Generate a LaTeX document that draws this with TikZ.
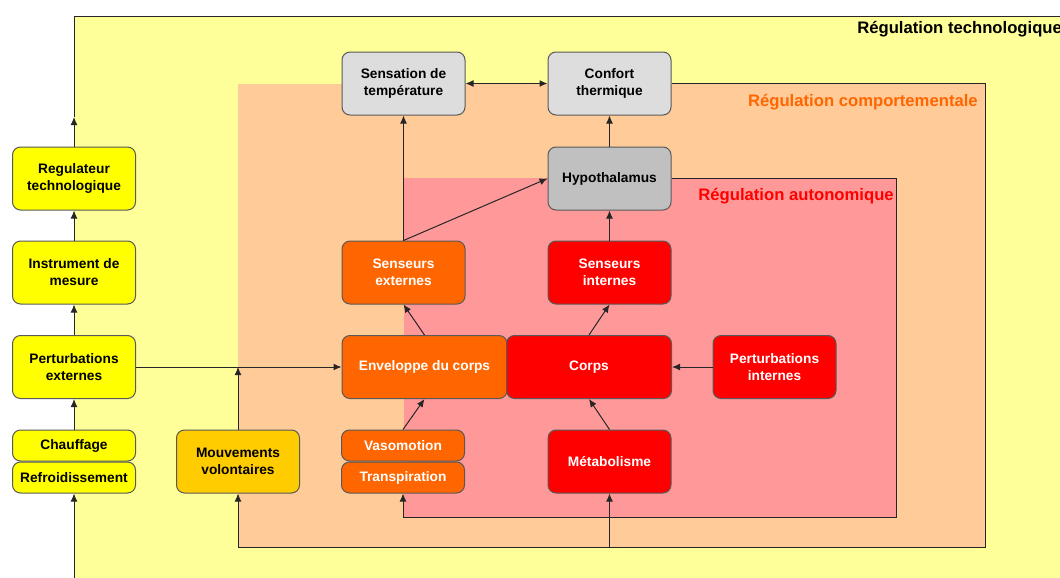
\documentclass[tikz,border=0pt]{standalone}
\usepackage{fontspec}
\setmainfont{Liberation Sans}
\usetikzlibrary{arrows.meta}

\definecolor{techbg}{HTML}{FFFF99}
\definecolor{compbg}{HTML}{FFCC99}
\definecolor{autobg}{HTML}{FF9999}
\definecolor{techbox}{HTML}{FFFF00}
\definecolor{mouvbox}{HTML}{FFCC00}
\definecolor{compbox}{HTML}{FF6600}
\definecolor{autobox}{HTML}{FF0000}
\definecolor{sensbox}{HTML}{DDDDDD}
\definecolor{hypbox}{HTML}{C0C0C0}

\begin{document}
\begin{tikzpicture}
        [x=0.75pt,y=-0.75pt,>={Latex[length=6pt,width=5.2pt]},
         box/.style={draw=black!65,line width=0.75pt,rounded corners=6pt,
           minimum width=92.25pt,minimum height=47.25pt,inner sep=1pt,align=center,
           font=\fontsize{10.3}{12.75}\selectfont\bfseries},
         halfbox/.style={box,minimum height=23.25pt},
         wide/.style={minimum width=123.75pt},
         techn/.style={fill=techbox},
         mouvn/.style={fill=mouvbox},
         compn/.style={fill=compbox,text=white},
         auton/.style={fill=autobox,text=white},
         sensn/.style={fill=sensbox},
         hypn/.style={fill=hypbox},
         regtitle/.style={inner sep=0,font=\fontsize{12.5}{15}\selectfont\bfseries},
         link/.style={draw=black!85,line width=0.75pt}]

        \useasboundingbox (0,0) rectangle (1060,578);
        \clip (0,0) rectangle (1060,578);

        \fill[techbg] (74,16) rectangle (1080,600);
        \fill[compbg] (238,84) rectangle (985,547);
        \fill[autobg] (404,178) rectangle (896,517);

        \node[regtitle,anchor=base west] (ttech) at (857,33) {Régulation technologique};
        \node[regtitle,anchor=base east,text=compbox] (tcomp) at (978,106) {Régulation comportementale};
        \node[regtitle,anchor=base east,text=autobox] (tauto) at (894,200) {Régulation autonomique};

        \node[box,techn] (reg) at (74,178.5) {Regulateur\\technologique};
        \node[box,techn] (instr) at (74,272.5) {Instrument de\\mesure};
        \node[box,techn] (pext) at (74,367) {Perturbations\\externes};
        \node[halfbox,techn] (chauf) at (74,445.5) {Chauffage};
        \node[halfbox,techn] (refr) at (74,477.5) {Refroidissement};
        \node[box,mouvn] (mouv) at (238,461.5) {Mouvements\\volontaires};

        \node[box,sensn] (sens) at (403.5,83.5) {Sensation de\\température};
        \node[box,sensn] (conf) at (609.5,83.5) {Confort\\thermique};
        \node[box,hypn] (hyp) at (609.5,178.5) {Hypothalamus};

        \node[box,compn] (sext) at (403.5,272.5) {Senseurs\\externes};
        \node[box,auton] (sint) at (609.5,272.5) {Senseurs\\internes};
        \node[box,compn,wide] (env) at (424.5,367) {Enveloppe du corps};
        \node[box,auton,wide] (corps) at (589,367) {Corps};
        \node[box,auton] (pint) at (774.5,367) {Perturbations\\internes};
        \node[halfbox,compn] (vaso) at (403,445.5) {Vasomotion};
        \node[halfbox,compn] (transp) at (403,477.5) {Transpiration};
        \node[box,auton] (met) at (609.5,461.5) {Métabolisme};

        \coordinate (techtop) at (reg.north |- 0,16);
        \coordinate (techend) at (1080,16);
        \coordinate (techmid) at (reg.north |- 0,117);
        \coordinate (techin) at (refr.south |- 0,600);
        \coordinate (compne) at (985,83.5);
        \coordinate (compse) at (985,547);
        \coordinate (compsw) at (mouv.south |- compse);
        \coordinate (compmet) at (met.south |- compse);
        \coordinate (compin) at (mouv.north |- pext.east);
        \coordinate (autone) at (896,178.5);
        \coordinate (autose) at (896,517);
        \coordinate (autosw) at (transp.south |- autose);

        \draw[link,->] (reg.north) -- (techmid);
        \draw[link] (techmid) -- (techtop) -- (techend);
        \draw[link,->] (techin) -- (refr.south);
        \draw[link,->] (chauf.north) -- (pext.south);
        \draw[link,->] (pext.north) -- (instr.south);
        \draw[link,->] (instr.north) -- (reg.south);
        \draw[link,->] (pext.east) -- (env.west);
        \draw[link,->] (mouv.north) -- (compin);

        \draw[link,<->] (sens.east) -- (conf.west);
        \draw[link] (conf.east) -- (compne) -- (compse) -- (compsw);
        \draw[link,->] (compsw) -- (mouv.south);
        \draw[link,->] (compmet) -- (met.south);

        \draw[link] (hyp.east) -- (autone) -- (autose) -- (autosw);
        \draw[link,->] (autosw) -- (transp.south);

        \draw[link,->] (hyp.north) -- (conf.south);
        \draw[link,->] (sint.north) -- (hyp.south);
        \draw[link,->] (sext.north) -- (hyp.west);
        \draw[link,->] (sext.north) -- (sens.south);
        \draw[link,->] (env.north) -- (sext.south);
        \draw[link,->] (corps.north) -- (sint.south);
        \draw[link,->] (vaso.north) -- (env.south);
        \draw[link,->] (met.north) -- (corps.south);
        \draw[link,->] (pint.west) -- (corps.east);

      \end{tikzpicture}
\end{document}
